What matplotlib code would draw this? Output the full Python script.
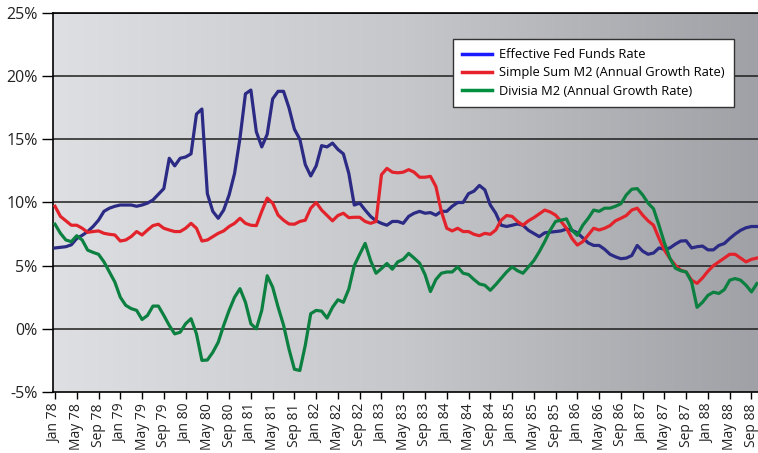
import numpy as np
import matplotlib.pyplot as plt
from matplotlib.lines import Line2D
from matplotlib.colors import LinearSegmentedColormap

# monthly values, Jan 1978 .. Oct 1988 (percent)
fed_funds = [6.4, 6.45, 6.5, 6.65, 7.15, 7.4, 7.7, 8.1, 8.6, 9.3,
             9.55, 9.7, 9.8, 9.8, 9.8, 9.7, 9.8, 9.95, 10.2, 10.65,
             11.1, 13.5, 12.9, 13.5, 13.6, 13.85, 17.0, 17.4, 10.7, 9.3,
             8.75, 9.4, 10.6, 12.3, 15.1, 18.6, 18.9, 15.6, 14.4, 15.4,
             18.2, 18.8, 18.8, 17.5, 15.8, 15.0, 13.0, 12.1, 12.9, 14.5,
             14.4, 14.7, 14.2, 13.85, 12.3, 9.8, 9.95, 9.4, 8.9, 8.55,
             8.35, 8.2, 8.5, 8.5, 8.35, 8.9, 9.15, 9.3, 9.15, 9.2,
             9.0, 9.3, 9.3, 9.7, 10.0, 10.0, 10.7, 10.9, 11.35, 11.0,
             9.8, 9.15, 8.2, 8.1, 8.2, 8.3, 8.2, 7.8, 7.55, 7.3,
             7.6, 7.65, 7.7, 7.75, 7.9, 7.8, 7.6, 7.2, 6.8, 6.6,
             6.6, 6.3, 5.9, 5.7, 5.55, 5.6, 5.8, 6.6, 6.15, 5.9,
             6.0, 6.4, 6.3, 6.4, 6.7, 6.95, 6.97, 6.4, 6.5, 6.55,
             6.25, 6.25, 6.6, 6.75, 7.15, 7.5, 7.8, 8.0, 8.1, 8.1]

simple_m2 = [9.7, 8.9, 8.55, 8.2, 8.2, 7.96, 7.64, 7.7, 7.75, 7.56,
             7.48, 7.43, 6.95, 7.03, 7.3, 7.7, 7.43, 7.82, 8.17, 8.28,
             7.96, 7.82, 7.7, 7.7, 7.96, 8.35, 7.96, 6.95, 7.03, 7.3,
             7.56, 7.75, 8.1, 8.35, 8.75, 8.35, 8.2, 8.17, 9.3, 10.35,
             9.95, 9.0, 8.6, 8.3, 8.28, 8.5, 8.6, 9.55, 10.0, 9.4,
             8.97, 8.55, 8.97, 9.15, 8.8, 8.83, 8.83, 8.5, 8.35, 8.5,
             12.2, 12.7, 12.4, 12.35, 12.4, 12.6, 12.4, 12.0, 12.0, 12.07,
             11.27, 9.3, 7.96, 7.75, 7.96, 7.7, 7.7, 7.48, 7.37, 7.56,
             7.48, 7.82, 8.6, 8.97, 8.9, 8.5, 8.2, 8.55, 8.8, 9.1,
             9.4, 9.25, 9.0, 8.5, 7.96, 7.16, 6.63, 6.9, 7.43, 7.96,
             7.82, 7.96, 8.17, 8.55, 8.75, 8.97, 9.4, 9.55, 9.0, 8.55,
             8.2, 7.16, 6.23, 5.57, 5.04, 4.64, 4.5, 3.85, 3.6, 4.03,
             4.56, 5.0, 5.3, 5.6, 5.9, 5.9, 5.6, 5.3, 5.5, 5.6]

divisia_m2 = [8.28, 7.56, 7.03, 6.9, 7.37, 7.03, 6.23, 6.05, 5.9, 5.3,
              4.5, 3.7, 2.5, 1.86, 1.6, 1.46, 0.74, 1.06, 1.8, 1.8,
              1.06, 0.27, -0.4, -0.27, 0.4, 0.8, -0.4, -2.5, -2.47, -1.86,
              -1.06, 0.27, 1.46, 2.5, 3.18, 2.1, 0.4, 0.0, 1.46, 4.2,
              3.3, 1.72, 0.3, -1.6, -3.2, -3.3, -1.3, 1.2, 1.46, 1.4,
              0.85, 1.7, 2.3, 2.1, 3.15, 5.0, 5.9, 6.76, 5.4, 4.4,
              4.77, 5.17, 4.72, 5.3, 5.5, 5.97, 5.6, 5.2, 4.3, 2.95,
              3.9, 4.4, 4.5, 4.5, 4.9, 4.4, 4.3, 3.9, 3.55, 3.45,
              3.05, 3.5, 4.0, 4.5, 4.9, 4.6, 4.4, 4.9, 5.4, 6.1,
              6.9, 7.8, 8.5, 8.6, 8.7, 7.8, 7.4, 8.2, 8.75, 9.4,
              9.3, 9.55, 9.55, 9.7, 9.9, 10.6, 11.05, 11.1, 10.6, 9.95,
              9.5, 8.2, 6.8, 5.6, 4.8, 4.6, 4.5, 3.7, 1.7, 2.1,
              2.65, 2.9, 2.8, 3.1, 3.85, 3.98, 3.85, 3.45, 2.92, 3.58]

tick_labels = ['%s %02d' % (m, y) for y in range(78, 89) for m in ('Jan', 'May', 'Sep')]
y_ticks = [-5, 0, 5, 10, 15, 20, 25]
y_labels = ['-5%', '0%', '5%', '10%', '15%', '20%', '25%']

legend_names = ['Effective Fed Funds Rate',
                'Simple Sum M2 (Annual Growth Rate)',
                'Divisia M2 (Annual Growth Rate)']


plt.rcParams['font.family'] = ['Open Sans', 'DejaVu Sans']

fig = plt.figure(figsize=(7.58, 4.53), dpi=100)
ax = fig.add_axes([0.0699, 0.1347, 0.9301, 0.8366])

x0, x1 = -0.37, 129.2
ax.set_xlim(x0, x1)
ax.set_ylim(-5, 25)

# grey gradient background
grad = np.linspace(0, 1, 256).reshape(1, -1)
bg = LinearSegmentedColormap.from_list('bg', ['#dedfe2', '#c6c7ca', '#a0a1a6'])
ax.imshow(grad, aspect='auto', cmap=bg, extent=[x0, x1, -5, 25], zorder=0)

for y in y_ticks[1:]:
    ax.axhline(y, color='#1e1e1e', lw=1.1, zorder=1)

months = np.arange(len(fed_funds))
ax.plot(months, fed_funds, color='#2b2a84', lw=2.3, zorder=3)
ax.plot(months, simple_m2, color='#e3232b', lw=2.3, zorder=3)
ax.plot(months, divisia_m2, color='#0c8040', lw=2.3, zorder=3)

ax.set_yticks(y_ticks)
ax.set_yticklabels(y_labels, fontsize=11.5, color='#222222')
ax.set_xticks(np.arange(0, 4 * len(tick_labels), 4))
ax.set_xticklabels(tick_labels, rotation=90, fontsize=10, color='#222222')
ax.tick_params(axis='y', direction='out', length=8, width=1, pad=3)
ax.tick_params(axis='x', direction='out', length=5, width=1, pad=3)

for s in ['left', 'bottom', 'top']:
    ax.spines[s].set_linewidth(1.2)
    ax.spines[s].set_color('black')
ax.spines['right'].set_visible(False)

handles = [Line2D([], [], color='#1a1aff', lw=2.5),
           Line2D([], [], color='#e8202a', lw=2.5),
           Line2D([], [], color='#009040', lw=2.5)]
leg = ax.legend(handles, legend_names, loc='upper left',
                bbox_to_anchor=(0.5976, 0.9139), bbox_transform=fig.transFigure,
                borderaxespad=0, fontsize=9.3, frameon=True, fancybox=False,
                framealpha=1, edgecolor='#333333', handlelength=2.3,
                handletextpad=0.6, labelspacing=0.42, borderpad=0.7)
leg.get_frame().set_linewidth(1.0)
leg.set_zorder(5)

fig.savefig('out.png', dpi=100)
